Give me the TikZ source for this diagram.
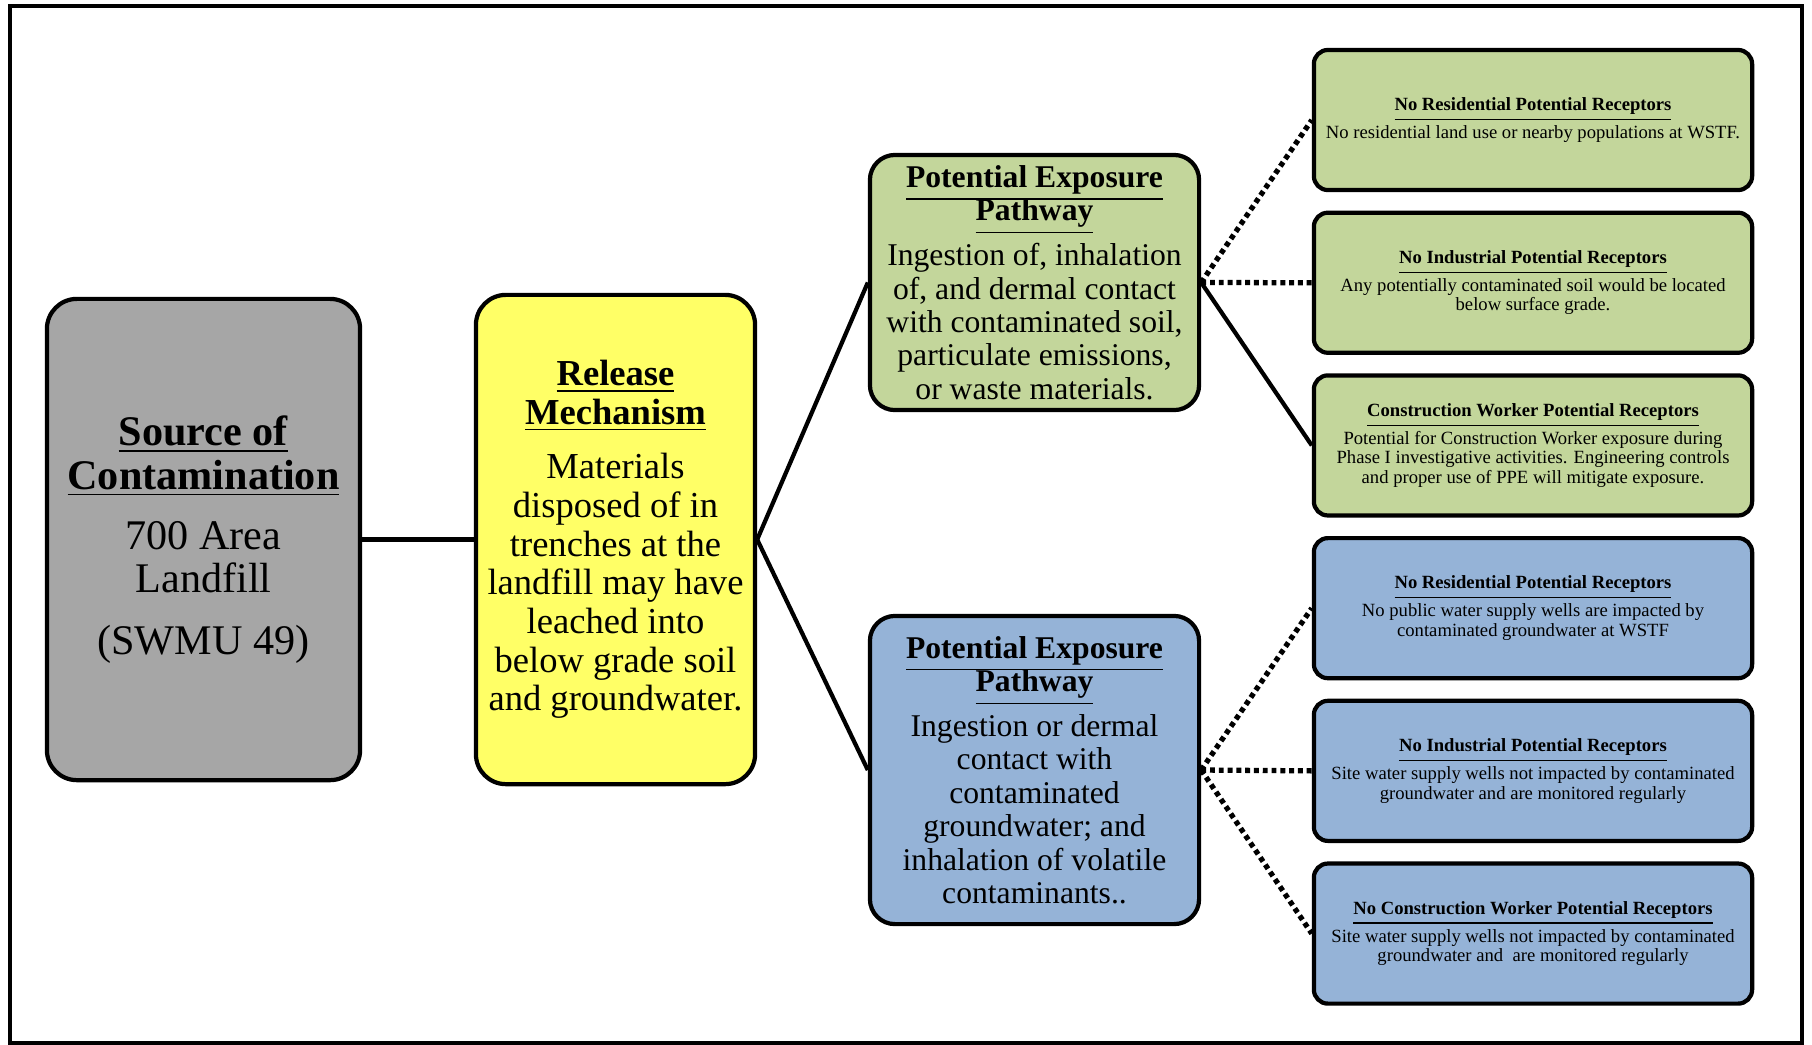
\documentclass[tikz,border=0pt]{standalone}
\usepackage{fontspec}
\setmainfont{Liberation Serif}
\usepackage{tikz}
\newcommand{\recwidth}{4.38cm}
\newcommand{\recheight}{1.40cm}
\definecolor{srcGray}{RGB}{166,166,166}
\definecolor{relYellow}{RGB}{255,255,102}
\definecolor{soilGreen}{RGB}{195,214,155}
\definecolor{waterBlue}{RGB}{149,179,215}
\usetikzlibrary{positioning}
\tikzset{
  x=0.01cm,y=-0.01cm,
  node distance=0.184cm,
  box/.style={draw,line width=1.2pt,rounded corners=0.3cm,align=center,inner sep=0pt},
  srcbox/.style={box,fill=srcGray,minimum width=3.13cm,minimum height=4.81cm,font=\fontsize{12}{12.4}\selectfont},
  relbox/.style={box,fill=relYellow,minimum width=2.79cm,minimum height=4.89cm,font=\fontsize{10.4}{11}\selectfont},
  pathbox/.style={box,rounded corners=0.25cm,minimum width=3.29cm,font=\fontsize{9}{9.5}\selectfont},
  recbox/.style={box,rounded corners=0.14cm,minimum width=\recwidth,minimum height=\recheight,font=\fontsize{5.3}{5.6}\selectfont},
  line/.style={draw,line width=1.2pt},
  dotline/.style={draw,line width=1.5pt,dash pattern=on 1.4pt off 1.1pt},
}
\newcommand{\head}[1]{\underline{\textbf{#1}}}

\begin{document}
\lineskiplimit=-100pt
\begin{tikzpicture}
  \useasboundingbox (0,0) rectangle (1812,1044);
  \draw[line width=1.2pt] (10,6) rectangle (1802,1043);

  \node (src) [srcbox] at (203.5,539.5) {\head{Source of}\\\head{Contamination}\\[4.7pt]700 Area\\Landfill\\[5pt](SWMU 49)};
  \node (rel) [relbox] at (615.5,539.5) {\head{Release}\\\head{Mechanism}\\[4.5pt]Materials\\disposed of in\\trenches at the\\landfill may have\\leached into\\below grade soil\\and groundwater.};
  \node (soil) [pathbox,fill=soilGreen,minimum height=2.55cm] at (1034.5,282.5) {\head{Potential Exposure}\\\head{Pathway}\\[3.3pt]Ingestion of, inhalation\\of, and dermal contact\\with contaminated soil,\\particulate emissions,\\or waste materials.};
  \node (water) [pathbox,fill=waterBlue,minimum height=3.08cm] at (1034.5,770) {\head{Potential Exposure}\\\head{Pathway}\\[3.3pt]Ingestion or dermal\\contact with\\contaminated\\groundwater; and\\inhalation of volatile\\contaminants..};

  \node (resS) [recbox,fill=soilGreen] at (1533,120) {\head{No Residential Potential Receptors}\\[2.3pt]No residential land use or nearby populations at WSTF.};
  \node (indS) [recbox,fill=soilGreen,below=of resS] {\head{No Industrial Potential Receptors}\\[2.3pt]Any potentially contaminated soil would be located\\below surface grade.};
  \node (conS) [recbox,fill=soilGreen,below=of indS] {\head{Construction Worker Potential Receptors}\\[2.3pt]Potential for Construction Worker exposure during\\Phase I investigative activities. Engineering controls\\and proper use of PPE will mitigate exposure.};
  \node (resW) [recbox,fill=waterBlue,below=of conS] {\head{No Residential Potential Receptors}\\[2.3pt]No public water supply wells are impacted by\\contaminated groundwater at WSTF};
  \node (indW) [recbox,fill=waterBlue,below=of resW] {\head{No Industrial Potential Receptors}\\[2.3pt]Site water supply wells not impacted by contaminated\\groundwater and are monitored regularly};
  \node (conW) [recbox,fill=waterBlue,below=of indW] {\head{No Construction Worker Potential Receptors}\\[2.3pt]Site water supply wells not impacted by contaminated\\groundwater and\ \ are monitored regularly};

  \path [line] (src.east) -- (rel.west);
  \path [line] (rel.east) -- (soil.west);
  \path [line] (rel.east) -- (water.west);
  \path [dotline] (soil.east) -- (resS.west);
  \path [dotline] (soil.east) -- (indS.west);
  \path [line] (soil.east) -- (conS.west);
  \path [dotline] (water.east) -- (resW.west);
  \path [dotline] (water.east) -- (indW.west);
  \path [dotline] (water.east) -- (conW.west);
\end{tikzpicture}
\end{document}
